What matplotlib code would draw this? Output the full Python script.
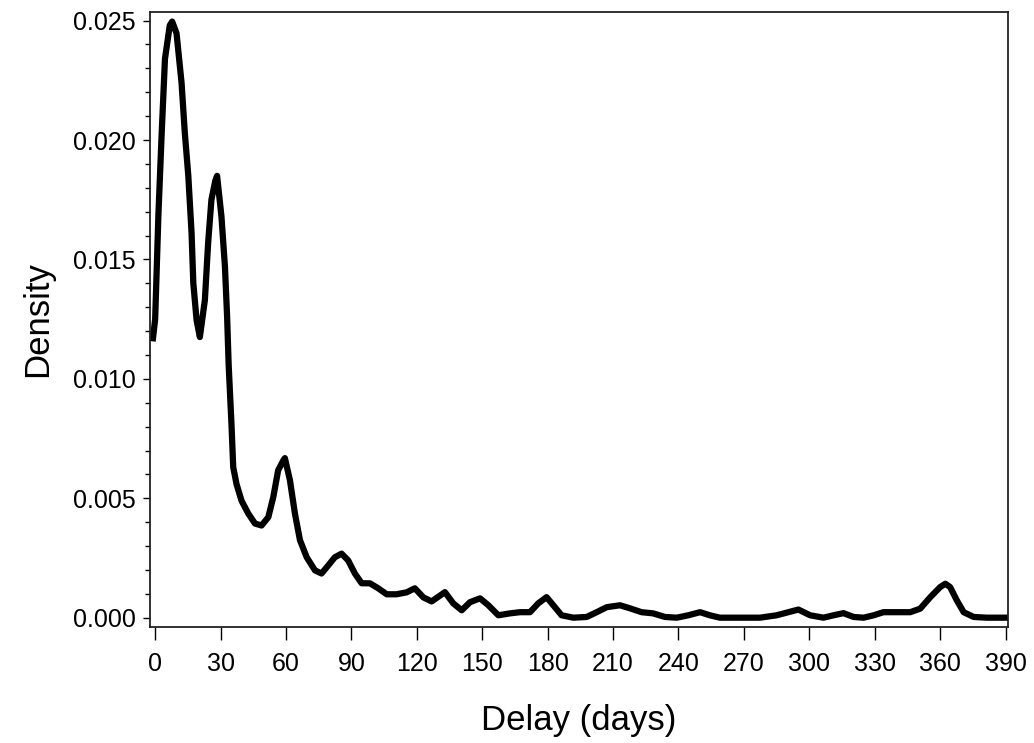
import numpy as np
import matplotlib
matplotlib.use("Agg")
import matplotlib.pyplot as plt
from matplotlib.ticker import MultipleLocator

# Density curve (delay in days, density)
delay = [-1.0, 0.0, 1.5, 3.0, 4.5, 6.7, 7.8, 9.8, 12.1, 13.6, 15.2, 16.7, 17.5,
         19.0, 20.5, 22.8, 24.3, 25.8, 27.6, 28.4, 30.4, 32.0, 33.0, 33.7,
         35.0, 35.8, 37.3, 39.6, 42.7, 45.8, 48.8, 51.9, 54.2, 56.4, 58.8, 59.5,
         61.8, 64.1, 66.4, 69.5, 73.3, 76.3, 79.4, 82.4, 85.5, 88.5, 91.6, 94.7,
         98.5, 102.3, 106.2, 110.7, 115.3, 119.1, 123.0, 126.8, 132.9, 136.7,
         140.6, 144.4, 149.0, 152.8, 157.4, 162.7, 167.3, 171.9, 175.7, 179.5,
         182.6, 186.4, 191.8, 197.9, 202.5, 207.1, 213.2, 217.8, 223.1, 228.4,
         233.8, 239.2, 244.5, 249.9, 254.4, 259.0, 269.7, 277.4, 285.0, 290.4,
         295.0, 300.4, 306.5, 311.1, 315.7, 320.3, 324.9, 329.5, 334.0, 340.2,
         346.3, 350.9, 355.5, 360.0, 362.4, 364.6, 367.7, 370.8, 375.4, 381.5,
         390.0]
density = [0.0117, 0.0125, 0.0169, 0.0203, 0.0234, 0.0248, 0.02496, 0.02447,
           0.0224, 0.0203, 0.0185, 0.0161, 0.0140, 0.01246, 0.01175, 0.0133,
           0.0157, 0.0175, 0.0183, 0.0185, 0.0168, 0.0147, 0.0126, 0.0106,
           0.0081, 0.0063, 0.0056, 0.0049, 0.00436, 0.00394, 0.00386,
           0.00421, 0.00506, 0.00617, 0.00659, 0.00668, 0.00576, 0.00436,
           0.00325, 0.00253, 0.00198, 0.00185, 0.00219, 0.00253, 0.00268,
           0.0024, 0.00185, 0.00144, 0.00144, 0.00123, 0.00098, 0.00098,
           0.00106, 0.00123, 0.00085, 0.00068, 0.00107, 0.0006, 0.00031,
           0.00065, 0.00081, 0.00052, 0.0001, 0.00018, 0.00023, 0.00023,
           0.0006, 0.00086, 0.00052, 0.0001, 0.0, 0.00003, 0.00023, 0.00044,
           0.00052, 0.00039, 0.00023, 0.00018, 0.00003, 0.0, 0.0001, 0.00023,
           0.0001, 0.0, 0.0, 0.0, 0.0001, 0.00023, 0.00034, 0.0001, 0.0,
           0.0001, 0.00019, 0.00003, 0.0, 0.0001, 0.00023, 0.00023, 0.00023,
           0.00038, 0.00086, 0.00128, 0.00142, 0.00128, 0.00072, 0.00023,
           0.00003, 0.0, 0.0]

xticks = list(range(0, 391, 30))
yticks = [0.000, 0.005, 0.010, 0.015, 0.020, 0.025]

plt.rcParams['font.family'] = ['Liberation Sans', 'DejaVu Sans']

fig = plt.figure(figsize=(10.34, 7.43), dpi=100)
ax = fig.add_axes([0.145, 0.156, 0.830, 0.828])

ax.plot(delay, density, color='black', lw=4.5, solid_joinstyle='round')

ax.set_xlim(-2.4, 391.2)
ax.set_ylim(-0.000394, 0.025365)
ax.set_xticks(xticks)
ax.set_yticks(yticks)
ax.set_yticklabels(['%.3f' % v for v in yticks])
ax.yaxis.set_minor_locator(MultipleLocator(0.001))

ax.tick_params(axis='x', direction='out', length=9, width=1, labelsize=18, pad=9)
ax.tick_params(axis='y', which='major', direction='out', length=5, width=1,
               labelsize=18, pad=5)
ax.tick_params(axis='y', which='minor', direction='out', length=3.5, width=1)

for s in ax.spines.values():
    s.set_linewidth(1.3)
    s.set_color('#222222')

ax.set_xlabel('Delay (days)', fontsize=25, labelpad=20)
ax.set_ylabel('Density', fontsize=25, labelpad=14)

fig.savefig('out.png', dpi=100)
